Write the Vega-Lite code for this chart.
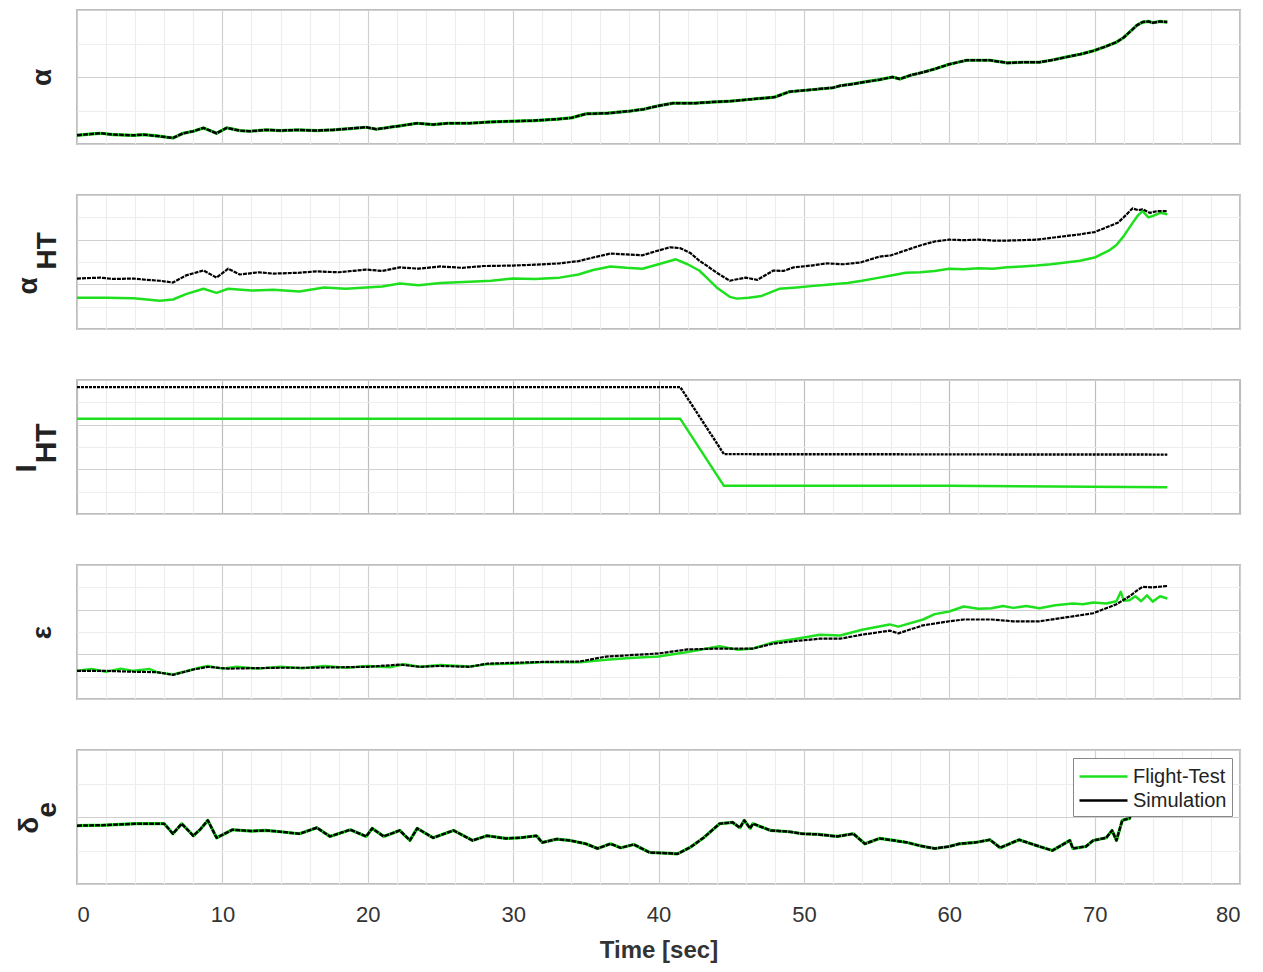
{
  "$schema": "https://vega.github.io/schema/vega-lite/v6.json",
  "background": "white",
  "padding": {"left": 10, "top": 9, "right": 20, "bottom": 5},
  "spacing": 49,
  "config": {
    "font": "Liberation Sans",
    "view": {"stroke": "#bdbdbd", "strokeWidth": 2},
    "line": {"strokeJoin": "round"}
  },
  "resolve": {"legend": {"color": "independent"}},
  "datasets": {
    "alpha": [
      {"t":0,"v":0.13},{"t":1,"v":0.15},{"t":1.6,"v":0.16},{"t":2.5,"v":0.14},{"t":3.9,"v":0.13},{"t":4.6,"v":0.14},{"t":5.5,"v":0.12},{"t":6.6,"v":0.09},{"t":7.3,"v":0.16},{"t":8,"v":0.19},{"t":8.7,"v":0.24},{"t":9.6,"v":0.16},{"t":10.3,"v":0.24},{"t":11.2,"v":0.2},{"t":11.9,"v":0.19},{"t":13,"v":0.21},{"t":14,"v":0.2},{"t":15.3,"v":0.21},{"t":16.5,"v":0.2},{"t":17.6,"v":0.21},{"t":18.8,"v":0.23},{"t":19.9,"v":0.25},{"t":20.6,"v":0.22},{"t":21.5,"v":0.25},{"t":22.2,"v":0.27},{"t":23.4,"v":0.31},{"t":24.5,"v":0.29},{"t":25.5,"v":0.31},{"t":27,"v":0.31},{"t":28.5,"v":0.33},{"t":30,"v":0.34},{"t":31.5,"v":0.35},{"t":33,"v":0.37},{"t":34,"v":0.39},{"t":35,"v":0.45},{"t":36.5,"v":0.46},{"t":38,"v":0.49},{"t":39,"v":0.52},{"t":40,"v":0.57},{"t":41,"v":0.61},{"t":42.5,"v":0.61},{"t":44,"v":0.63},{"t":45,"v":0.64},{"t":46,"v":0.66},{"t":47,"v":0.68},{"t":48,"v":0.7},{"t":49,"v":0.78},{"t":50.5,"v":0.81},{"t":52,"v":0.84},{"t":52.5,"v":0.87},{"t":53.5,"v":0.9},{"t":54.3,"v":0.93},{"t":55.2,"v":0.96},{"t":56.1,"v":1.0},{"t":56.6,"v":0.97},{"t":57.4,"v":1.03},{"t":58.2,"v":1.07},{"t":59,"v":1.12},{"t":60,"v":1.19},{"t":61.2,"v":1.25},{"t":62,"v":1.25},{"t":62.8,"v":1.25},{"t":64,"v":1.21},{"t":65,"v":1.22},{"t":66.2,"v":1.22},{"t":67,"v":1.25},{"t":68.1,"v":1.3},{"t":69,"v":1.34},{"t":69.9,"v":1.39},{"t":70.7,"v":1.45},{"t":71.5,"v":1.52},{"t":72,"v":1.59},{"t":72.4,"v":1.67},{"t":72.9,"v":1.77},{"t":73.3,"v":1.82},{"t":73.7,"v":1.83},{"t":74,"v":1.81},{"t":74.5,"v":1.83},{"t":75,"v":1.82}
    ],
    "ahtSim": [
      {"t":0,"v":1.13},{"t":1.6,"v":1.15},{"t":2.5,"v":1.12},{"t":3.9,"v":1.13},{"t":4.8,"v":1.1},{"t":5.7,"v":1.08},{"t":6.6,"v":1.04},{"t":7.5,"v":1.2},{"t":8.7,"v":1.31},{"t":9.6,"v":1.15},{"t":10.4,"v":1.35},{"t":11.2,"v":1.22},{"t":12.5,"v":1.27},{"t":13.5,"v":1.24},{"t":15.3,"v":1.26},{"t":16.5,"v":1.29},{"t":18,"v":1.27},{"t":19.9,"v":1.33},{"t":21,"v":1.3},{"t":22.2,"v":1.38},{"t":23.5,"v":1.35},{"t":25,"v":1.4},{"t":26.5,"v":1.37},{"t":28,"v":1.41},{"t":30,"v":1.42},{"t":31.5,"v":1.44},{"t":33.2,"v":1.47},{"t":34.5,"v":1.52},{"t":35.5,"v":1.6},{"t":36.7,"v":1.69},{"t":37.8,"v":1.67},{"t":38.9,"v":1.65},{"t":39.8,"v":1.74},{"t":40.8,"v":1.83},{"t":41.5,"v":1.81},{"t":42.2,"v":1.7},{"t":42.8,"v":1.53},{"t":43.4,"v":1.4},{"t":44,"v":1.26},{"t":44.9,"v":1.08},{"t":45.5,"v":1.12},{"t":46,"v":1.15},{"t":46.8,"v":1.1},{"t":47.9,"v":1.31},{"t":48.6,"v":1.3},{"t":49.3,"v":1.38},{"t":50.5,"v":1.42},{"t":51.6,"v":1.47},{"t":52.7,"v":1.45},{"t":53.9,"v":1.49},{"t":55.2,"v":1.62},{"t":56,"v":1.65},{"t":57,"v":1.76},{"t":58,"v":1.87},{"t":59,"v":1.96},{"t":60,"v":2.0},{"t":61,"v":1.99},{"t":62,"v":2.0},{"t":63,"v":1.98},{"t":64,"v":1.98},{"t":65,"v":1.99},{"t":66,"v":2.0},{"t":67,"v":2.04},{"t":68,"v":2.08},{"t":69,"v":2.12},{"t":70,"v":2.17},{"t":71,"v":2.3},{"t":71.6,"v":2.38},{"t":72,"v":2.5},{"t":72.6,"v":2.7},{"t":73,"v":2.66},{"t":73.3,"v":2.68},{"t":73.8,"v":2.6},{"t":74.3,"v":2.64},{"t":75,"v":2.64}
    ],
    "ahtFT": [
      {"t":0,"v":0.7},{"t":2,"v":0.7},{"t":3.9,"v":0.69},{"t":5.7,"v":0.63},{"t":6.6,"v":0.66},{"t":7.5,"v":0.78},{"t":8.7,"v":0.9},{"t":9.6,"v":0.81},{"t":10.4,"v":0.9},{"t":12,"v":0.86},{"t":13.5,"v":0.88},{"t":15.3,"v":0.84},{"t":17,"v":0.93},{"t":18.5,"v":0.9},{"t":19.9,"v":0.93},{"t":21,"v":0.95},{"t":22.2,"v":1.02},{"t":23.5,"v":0.98},{"t":25,"v":1.03},{"t":27,"v":1.06},{"t":28.5,"v":1.08},{"t":30,"v":1.13},{"t":31.5,"v":1.12},{"t":33.2,"v":1.15},{"t":34.5,"v":1.22},{"t":35.5,"v":1.32},{"t":36.7,"v":1.4},{"t":37.8,"v":1.37},{"t":38.9,"v":1.35},{"t":40,"v":1.45},{"t":41.2,"v":1.56},{"t":42,"v":1.45},{"t":42.8,"v":1.31},{"t":43.4,"v":1.12},{"t":44,"v":0.93},{"t":44.9,"v":0.72},{"t":45.4,"v":0.68},{"t":46.2,"v":0.7},{"t":47.1,"v":0.74},{"t":48.3,"v":0.9},{"t":49.5,"v":0.93},{"t":50.5,"v":0.96},{"t":51.6,"v":0.99},{"t":53,"v":1.03},{"t":54,"v":1.08},{"t":55.2,"v":1.15},{"t":56,"v":1.2},{"t":57,"v":1.26},{"t":58,"v":1.27},{"t":59,"v":1.3},{"t":60,"v":1.35},{"t":61,"v":1.34},{"t":62,"v":1.36},{"t":63,"v":1.35},{"t":64,"v":1.38},{"t":65,"v":1.4},{"t":66,"v":1.42},{"t":67,"v":1.45},{"t":68,"v":1.49},{"t":69,"v":1.53},{"t":70,"v":1.6},{"t":71,"v":1.76},{"t":71.5,"v":1.88},{"t":72,"v":2.08},{"t":72.6,"v":2.37},{"t":73,"v":2.55},{"t":73.3,"v":2.64},{"t":73.7,"v":2.5},{"t":74,"v":2.53},{"t":74.5,"v":2.6},{"t":75,"v":2.57}
    ],
    "ihtSim": [
      {"t":0,"v":2.84},{"t":41.5,"v":2.84},{"t":44.5,"v":1.34},{"t":75,"v":1.33}
    ],
    "ihtFT": [
      {"t":0,"v":2.13},{"t":41.5,"v":2.13},{"t":44.5,"v":0.63},{"t":60,"v":0.63},{"t":75,"v":0.6}
    ],
    "epsSim": [
      {"t":0,"v":0.63},{"t":2,"v":0.63},{"t":3.9,"v":0.61},{"t":5.5,"v":0.6},{"t":6.6,"v":0.54},{"t":8,"v":0.66},{"t":9,"v":0.72},{"t":10.4,"v":0.68},{"t":12,"v":0.69},{"t":14,"v":0.7},{"t":16,"v":0.7},{"t":18,"v":0.71},{"t":20,"v":0.72},{"t":22.2,"v":0.77},{"t":23.6,"v":0.72},{"t":25,"v":0.74},{"t":27,"v":0.72},{"t":28.2,"v":0.79},{"t":30,"v":0.81},{"t":32,"v":0.83},{"t":34.6,"v":0.84},{"t":36.4,"v":0.95},{"t":38,"v":0.98},{"t":40,"v":1.02},{"t":42,"v":1.11},{"t":44.2,"v":1.13},{"t":46.5,"v":1.13},{"t":47.9,"v":1.24},{"t":49.5,"v":1.3},{"t":51.1,"v":1.35},{"t":52.5,"v":1.35},{"t":54,"v":1.44},{"t":55.9,"v":1.53},{"t":56.5,"v":1.47},{"t":58.2,"v":1.65},{"t":60,"v":1.74},{"t":61,"v":1.78},{"t":62.9,"v":1.78},{"t":64.4,"v":1.74},{"t":66.2,"v":1.74},{"t":68.5,"v":1.85},{"t":69.9,"v":1.92},{"t":71.5,"v":2.12},{"t":72.4,"v":2.3},{"t":73,"v":2.45},{"t":73.3,"v":2.51},{"t":74,"v":2.5},{"t":75,"v":2.53}
    ],
    "epsFT": [
      {"t":0,"v":0.63},{"t":1,"v":0.67},{"t":2,"v":0.61},{"t":3,"v":0.68},{"t":3.9,"v":0.63},{"t":5,"v":0.67},{"t":5.5,"v":0.6},{"t":6.6,"v":0.55},{"t":7.5,"v":0.62},{"t":8.4,"v":0.7},{"t":9,"v":0.74},{"t":10,"v":0.68},{"t":11,"v":0.72},{"t":12.5,"v":0.68},{"t":14,"v":0.72},{"t":15.5,"v":0.69},{"t":17,"v":0.74},{"t":18.5,"v":0.7},{"t":20,"v":0.74},{"t":21.5,"v":0.71},{"t":22.5,"v":0.78},{"t":23.6,"v":0.72},{"t":25,"v":0.76},{"t":27,"v":0.73},{"t":28.2,"v":0.78},{"t":30,"v":0.79},{"t":32,"v":0.82},{"t":34.6,"v":0.82},{"t":36.4,"v":0.88},{"t":38,"v":0.92},{"t":40,"v":0.95},{"t":42,"v":1.05},{"t":44.2,"v":1.18},{"t":45.5,"v":1.1},{"t":46.5,"v":1.13},{"t":47.9,"v":1.27},{"t":49.5,"v":1.35},{"t":51.1,"v":1.44},{"t":52.5,"v":1.42},{"t":54,"v":1.55},{"t":55.9,"v":1.67},{"t":56.5,"v":1.62},{"t":58.2,"v":1.78},{"t":59,"v":1.9},{"t":60,"v":1.96},{"t":61,"v":2.07},{"t":62,"v":2.02},{"t":62.9,"v":2.03},{"t":63.7,"v":2.08},{"t":64.4,"v":2.04},{"t":65.3,"v":2.08},{"t":66.2,"v":2.03},{"t":67.3,"v":2.1},{"t":68.5,"v":2.14},{"t":69.2,"v":2.12},{"t":69.9,"v":2.16},{"t":70.8,"v":2.14},{"t":71.5,"v":2.19},{"t":71.8,"v":2.4},{"t":72,"v":2.2},{"t":72.4,"v":2.21},{"t":72.8,"v":2.3},{"t":73.2,"v":2.19},{"t":73.6,"v":2.32},{"t":74,"v":2.18},{"t":74.5,"v":2.3},{"t":75,"v":2.25}
    ],
    "delta": [
      {"t":0,"v":0.87},{"t":2,"v":0.88},{"t":4,"v":0.9},{"t":6,"v":0.9},{"t":6.6,"v":0.75},{"t":7.2,"v":0.9},{"t":8,"v":0.72},{"t":8.5,"v":0.82},{"t":9,"v":0.95},{"t":9.6,"v":0.69},{"t":10.7,"v":0.81},{"t":12,"v":0.79},{"t":13,"v":0.8},{"t":14,"v":0.78},{"t":15.3,"v":0.75},{"t":16.5,"v":0.84},{"t":17.4,"v":0.71},{"t":18.8,"v":0.81},{"t":19.9,"v":0.71},{"t":20.3,"v":0.83},{"t":21.1,"v":0.71},{"t":22.2,"v":0.8},{"t":22.9,"v":0.65},{"t":23.4,"v":0.83},{"t":24.5,"v":0.69},{"t":25.9,"v":0.8},{"t":27.2,"v":0.65},{"t":28.2,"v":0.72},{"t":29.5,"v":0.68},{"t":30.5,"v":0.69},{"t":31.6,"v":0.72},{"t":32,"v":0.62},{"t":33,"v":0.67},{"t":33.9,"v":0.65},{"t":35,"v":0.6},{"t":35.8,"v":0.53},{"t":36.7,"v":0.6},{"t":37.4,"v":0.54},{"t":38.3,"v":0.59},{"t":39.4,"v":0.47},{"t":40.5,"v":0.46},{"t":41.3,"v":0.45},{"t":42.2,"v":0.55},{"t":43.1,"v":0.69},{"t":44.2,"v":0.9},{"t":45.1,"v":0.92},{"t":45.6,"v":0.84},{"t":45.9,"v":0.95},{"t":46.3,"v":0.83},{"t":46.5,"v":0.9},{"t":47.7,"v":0.8},{"t":49,"v":0.78},{"t":49.9,"v":0.75},{"t":51,"v":0.74},{"t":52.3,"v":0.71},{"t":53.4,"v":0.75},{"t":54.2,"v":0.6},{"t":55.2,"v":0.68},{"t":56.2,"v":0.65},{"t":57.1,"v":0.62},{"t":58,"v":0.57},{"t":59,"v":0.53},{"t":60,"v":0.56},{"t":60.7,"v":0.6},{"t":61.8,"v":0.62},{"t":62.8,"v":0.66},{"t":63.5,"v":0.54},{"t":64.8,"v":0.66},{"t":66.2,"v":0.56},{"t":67.1,"v":0.5},{"t":68.3,"v":0.65},{"t":68.5,"v":0.53},{"t":69.4,"v":0.56},{"t":69.9,"v":0.65},{"t":70.8,"v":0.69},{"t":71.2,"v":0.8},{"t":71.5,"v":0.65},{"t":71.9,"v":0.95},{"t":72.4,"v":0.98},{"t":72.6,"v":1.1},{"t":73.2,"v":1.2},{"t":74,"v":1.35},{"t":75,"v":1.45}
    ]
  },
  "vconcat": [
    {
      "width": 1163, "height": 134,
      "data": {"name": "alpha"},
      "encoding": {
        "x": {"field": "t", "type": "quantitative", "scale": {"domain": [0, 80], "nice": false},
          "axis": {"values": [0,2,4,6,8,10,12,14,16,18,20,22,24,26,28,30,32,34,36,38,40,42,44,46,48,50,52,54,56,58,60,62,64,66,68,70,72,74,76,78,80], "labels": false, "ticks": false, "domain": false, "title": null, "grid": true, "gridWidth": 1.2, "gridColor": {"condition": {"test": "datum.value % 10 === 0", "value": "#d0d0d0"}, "value": "#ededed"}}},
        "y": {"field": "v", "type": "quantitative", "scale": {"domain": [0, 2], "nice": false, "zero": false},
          "axis": {"values": [0, 0.5, 1, 1.5, 2], "labels": false, "ticks": false, "domain": false, "grid": true, "gridWidth": 1.2, "gridColor": {"condition": {"test": "datum.value % 1 === 0", "value": "#d0d0d0"}, "value": "#ededed"}, "title": "α", "titleFontSize": 28, "titleFontWeight": "bold", "titleColor": "#222", "titlePadding": 21}}
      },
      "layer": [
        {"mark": {"type": "line", "color": "#1ee01e", "strokeWidth": 3.2}},
        {"mark": {"type": "line", "color": "#000000", "strokeWidth": 2.5, "strokeDash": [5, 1]}}
      ]
    },
    {
      "width": 1163, "height": 134,
      "encoding": {
        "x": {"field": "t", "type": "quantitative", "scale": {"domain": [0, 80], "nice": false},
          "axis": {"values": [0,2,4,6,8,10,12,14,16,18,20,22,24,26,28,30,32,34,36,38,40,42,44,46,48,50,52,54,56,58,60,62,64,66,68,70,72,74,76,78,80], "labels": false, "ticks": false, "domain": false, "title": null, "grid": true, "gridWidth": 1.2, "gridColor": {"condition": {"test": "datum.value % 10 === 0", "value": "#d0d0d0"}, "value": "#ededed"}}},
        "y": {"field": "v", "type": "quantitative", "scale": {"domain": [0, 3], "nice": false, "zero": false},
          "axis": {"values": [0, 0.5, 1, 1.5, 2, 2.5, 3], "labels": false, "ticks": false, "domain": false, "grid": true, "gridWidth": 1.2, "gridColor": {"condition": {"test": "datum.value % 1 === 0", "value": "#d0d0d0"}, "value": "#ededed"}, "title": ["α\u00a0\u00a0\u00a0\u00a0\u00a0\u00a0\u200b", "\u200b\u00a0\u00a0\u00a0HT"], "titleLineHeight": 19, "titleFontSize": 28, "titleFontWeight": "bold", "titleColor": "#222", "titlePadding": 16}}
      },
      "layer": [
        {"data": {"name": "ahtFT"}, "mark": {"type": "line", "color": "#1ee01e", "strokeWidth": 2.5}},
        {"data": {"name": "ahtSim"}, "mark": {"type": "line", "color": "#000000", "strokeWidth": 2.2, "strokeDash": [4, 1]}}
      ]
    },
    {
      "width": 1163, "height": 134,
      "encoding": {
        "x": {"field": "t", "type": "quantitative", "scale": {"domain": [0, 80], "nice": false},
          "axis": {"values": [0,2,4,6,8,10,12,14,16,18,20,22,24,26,28,30,32,34,36,38,40,42,44,46,48,50,52,54,56,58,60,62,64,66,68,70,72,74,76,78,80], "labels": false, "ticks": false, "domain": false, "title": null, "grid": true, "gridWidth": 1.2, "gridColor": {"condition": {"test": "datum.value % 10 === 0", "value": "#bdbdbd"}, "value": "#ededed"}}},
        "y": {"field": "v", "type": "quantitative", "scale": {"domain": [0, 3], "nice": false, "zero": false},
          "axis": {"values": [0, 0.5, 1, 1.5, 2, 2.5, 3], "labels": false, "ticks": false, "domain": false, "grid": true, "gridWidth": 1.2, "gridColor": {"condition": {"test": "datum.value % 1 === 0", "value": "#d0d0d0"}, "value": "#ededed"}, "title": ["I\u00a0\u00a0\u00a0\u00a0\u00a0\u200b", "\u200b\u00a0HT"], "titleLineHeight": 20, "titleFontSize": 30, "titleFontWeight": "bold", "titleColor": "#222", "titlePadding": 16}}
      },
      "layer": [
        {"data": {"name": "ihtFT"}, "mark": {"type": "line", "color": "#1ee01e", "strokeWidth": 2.5}},
        {"data": {"name": "ihtSim"}, "mark": {"type": "line", "color": "#000000", "strokeWidth": 2.4, "strokeDash": [3, 1]}}
      ]
    },
    {
      "width": 1163, "height": 134,
      "encoding": {
        "x": {"field": "t", "type": "quantitative", "scale": {"domain": [0, 80], "nice": false},
          "axis": {"values": [0,2,4,6,8,10,12,14,16,18,20,22,24,26,28,30,32,34,36,38,40,42,44,46,48,50,52,54,56,58,60,62,64,66,68,70,72,74,76,78,80], "labels": false, "ticks": false, "domain": false, "title": null, "grid": true, "gridWidth": 1.2, "gridColor": {"condition": {"test": "datum.value % 10 === 0", "value": "#d0d0d0"}, "value": "#ededed"}}},
        "y": {"field": "v", "type": "quantitative", "scale": {"domain": [0, 3], "nice": false, "zero": false},
          "axis": {"values": [0, 0.5, 1, 1.5, 2, 2.5, 3], "labels": false, "ticks": false, "domain": false, "grid": true, "gridWidth": 1.2, "gridColor": {"condition": {"test": "datum.value % 1 === 0", "value": "#d0d0d0"}, "value": "#ededed"}, "title": "ε", "titleFontSize": 28, "titleFontWeight": "bold", "titleColor": "#222", "titlePadding": 21}}
      },
      "layer": [
        {"data": {"name": "epsFT"}, "mark": {"type": "line", "color": "#1ee01e", "strokeWidth": 2.5}},
        {"data": {"name": "epsSim"}, "mark": {"type": "line", "color": "#000000", "strokeWidth": 2.2, "strokeDash": [4, 1]}}
      ]
    },
    {
      "width": 1163, "height": 134,
      "data": {"name": "delta"},
      "encoding": {
        "x": {"field": "t", "type": "quantitative", "scale": {"domain": [0, 80], "nice": false},
          "axis": {"values": [0,2,4,6,8,10,12,14,16,18,20,22,24,26,28,30,32,34,36,38,40,42,44,46,48,50,52,54,56,58,60,62,64,66,68,70,72,74,76,78,80], "labels": true, "labelExpr": "datum.value % 10 === 0 ? datum.label : ''", "labelOverlap": false, "labelFontSize": 22, "labelColor": "#333", "labelPadding": 20, "ticks": false, "domain": false, "title": "Time [sec]", "titleFontSize": 24, "titleFontWeight": "bold", "titleColor": "#333", "titlePadding": 13, "grid": true, "gridWidth": 1.2, "gridColor": {"condition": {"test": "datum.value % 10 === 0", "value": "#d0d0d0"}, "value": "#ededed"}}},
        "y": {"field": "v", "type": "quantitative", "scale": {"domain": [0, 2], "nice": false, "zero": false},
          "axis": {"values": [0, 0.5, 1, 1.5, 2], "labels": false, "ticks": false, "domain": false, "grid": true, "gridWidth": 1.2, "gridColor": {"condition": {"test": "datum.value % 1 === 0", "value": "#d0d0d0"}, "value": "#ededed"}, "title": ["δ\u00a0\u00a0\u200b", "\u200b\u00a0\u00a0e"], "titleLineHeight": 18, "titleFontSize": 28, "titleFontWeight": "bold", "titleColor": "#222", "titlePadding": 16}}
      },
      "layer": [
        {"mark": {"type": "line", "strokeWidth": 3.2},
         "encoding": {"color": {"datum": "Flight-Test", "scale": {"domain": ["Flight-Test", "Simulation"], "range": ["#1ee01e", "#000000"]},
           "legend": {"title": null, "orient": "top-right", "offset": 8, "fillColor": "white", "strokeColor": "#888888", "padding": 5, "labelFontSize": 20, "labelColor": "#222", "labelOffset": 28, "symbolType": "M-1,0H3", "symbolSize": 576, "symbolStrokeWidth": 2.5, "symbolFillColor": "transparent", "rowPadding": 0, "cornerRadius": 0,
             "encode": {"symbols": {"update": {"strokeDash": {"signal": "datum.value === 'Simulation' ? [3, 1] : [1, 0]"}}}}}}}},
        {"mark": {"type": "line", "strokeWidth": 2.5, "strokeDash": [5, 1]}, "encoding": {"color": {"datum": "Simulation"}}}
      ]
    }
  ]
}
